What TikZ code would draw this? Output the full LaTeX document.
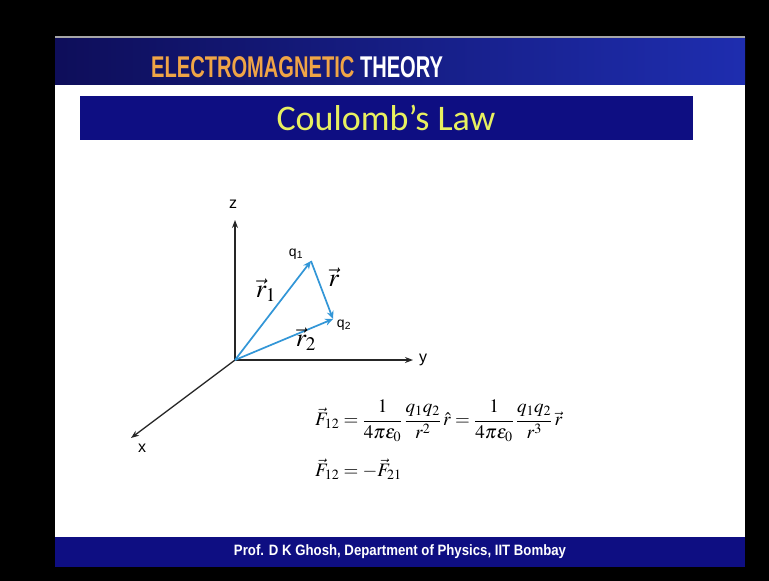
\documentclass[tikz,border=0pt]{standalone}
\usepackage{amsmath}
\usepackage{mathptmx}
\usepackage{fontspec}
\setmainfont{Liberation Serif}
\setsansfont{Liberation Sans}
\newfontfamily\headfont[FakeStretch=0.67]{Liberation Sans}
\newfontfamily\footfont[FakeStretch=0.88]{Liberation Sans}
\newfontfamily\titlefont{Carlito}
\usepackage{xcolor}
\usetikzlibrary{arrows.meta, positioning}

\definecolor{slidenavy}{RGB}{14,14,130}
\definecolor{headdark}{RGB}{14,14,90}
\definecolor{headlight}{RGB}{30,45,175}
\definecolor{vecblue}{RGB}{50,150,215}
\definecolor{titleyellow}{RGB}{232,240,96}
\definecolor{emorange}{RGB}{240,165,70}

\tikzset{
  axisline/.style={-{Stealth[length=8pt,width=6pt]}, line width=1.3pt, black!85},
  vecline/.style={-{Stealth[length=8pt,width=7pt]}, line width=1.7pt, color=vecblue},
  axislabel/.style={font=\sffamily\fontsize{16}{16}\selectfont, inner sep=1pt},
  chargelabel/.style={font=\sffamily\fontsize{14}{14}\selectfont, inner sep=1pt},
  veclabel/.style={font=\fontsize{26}{26}\selectfont, inner sep=1pt},
  formula/.style={font=\fontsize{19}{22}\selectfont, anchor=west, inner sep=0pt}
}

\begin{document}
\begin{tikzpicture}[x=1pt, y=-1pt]
  % slide frame
  \fill[black] (0,0) rectangle (769,581);
  \fill[white] (55,85) rectangle (745,537);
  \shade[left color=headdark, right color=headlight] (55,37) rectangle (745,84);
  \draw[gray!70, line width=1.5pt] (55,37) -- (745,37);
  \fill[slidenavy] (55,537) rectangle (745,567);
  \fill[slidenavy] (80,96) rectangle (693,140);

  % headings
  \node[font=\headfont\bfseries\fontsize{30}{30}\selectfont, anchor=west, inner sep=0pt]
    (subject) at (151,67) {\textcolor{emorange}{ELECTROMAGNETIC} \textcolor{white}{THEORY}};
  \node[font=\titlefont\fontsize{36}{36}\selectfont, text=titleyellow]
    (title) at (386,118) {Coulomb’s Law};
  \node[font=\footfont\bfseries\fontsize{15}{15}\selectfont, text=white]
    (footer) at (400,552) {Prof. D K Ghosh, Department of Physics, IIT Bombay};

  % axes
  \coordinate (O) at (235,360);
  \coordinate (zend) at (235,220);
  \coordinate (yend) at (413,360);
  \coordinate (xend) at (131,438);
  \draw[axisline] (O) -- (zend);
  \draw[axisline] (O) -- (yend);
  \draw[axisline] (O) -- (xend);
  \node[axislabel] (zlab) at (233,204) {z};
  \node[axislabel] (ylab) at (423,360) {y};
  \node[axislabel] (xlab) at (142,448) {x};

  % charges and vectors
  \coordinate (q1) at (311,261);
  \coordinate (q2) at (333,319);
  \draw[vecline] (O) -- (q1);
  \draw[vecline] (O) -- (q2);
  \draw[vecline] (q1) -- (q2);
  \node[chargelabel] (q1lab) at (296,254) {q\textsubscript{1}};
  \node[chargelabel] (q2lab) at (344,325) {q\textsubscript{2}};
  \node[veclabel] (r1lab) at (266,290) {$\vec{r}_1$};
  \node[veclabel] (rlab) at (334,277) {$\vec{r}$};
  \node[veclabel] (r2lab) at (306,339) {$\vec{r}_2$};

  % force law
  \node[formula] (law) at (315,421)
    {$\displaystyle \vec{F}_{12} = \frac{1}{4\pi\varepsilon_0}\,\frac{q_1q_2}{r^2}\,\hat{r}
      = \frac{1}{4\pi\varepsilon_0}\,\frac{q_1q_2}{r^3}\,\vec{r}$};
  \node[formula] (newton) at (315,469) {$\vec{F}_{12} = -\vec{F}_{21}$};
\end{tikzpicture}
\end{document}
